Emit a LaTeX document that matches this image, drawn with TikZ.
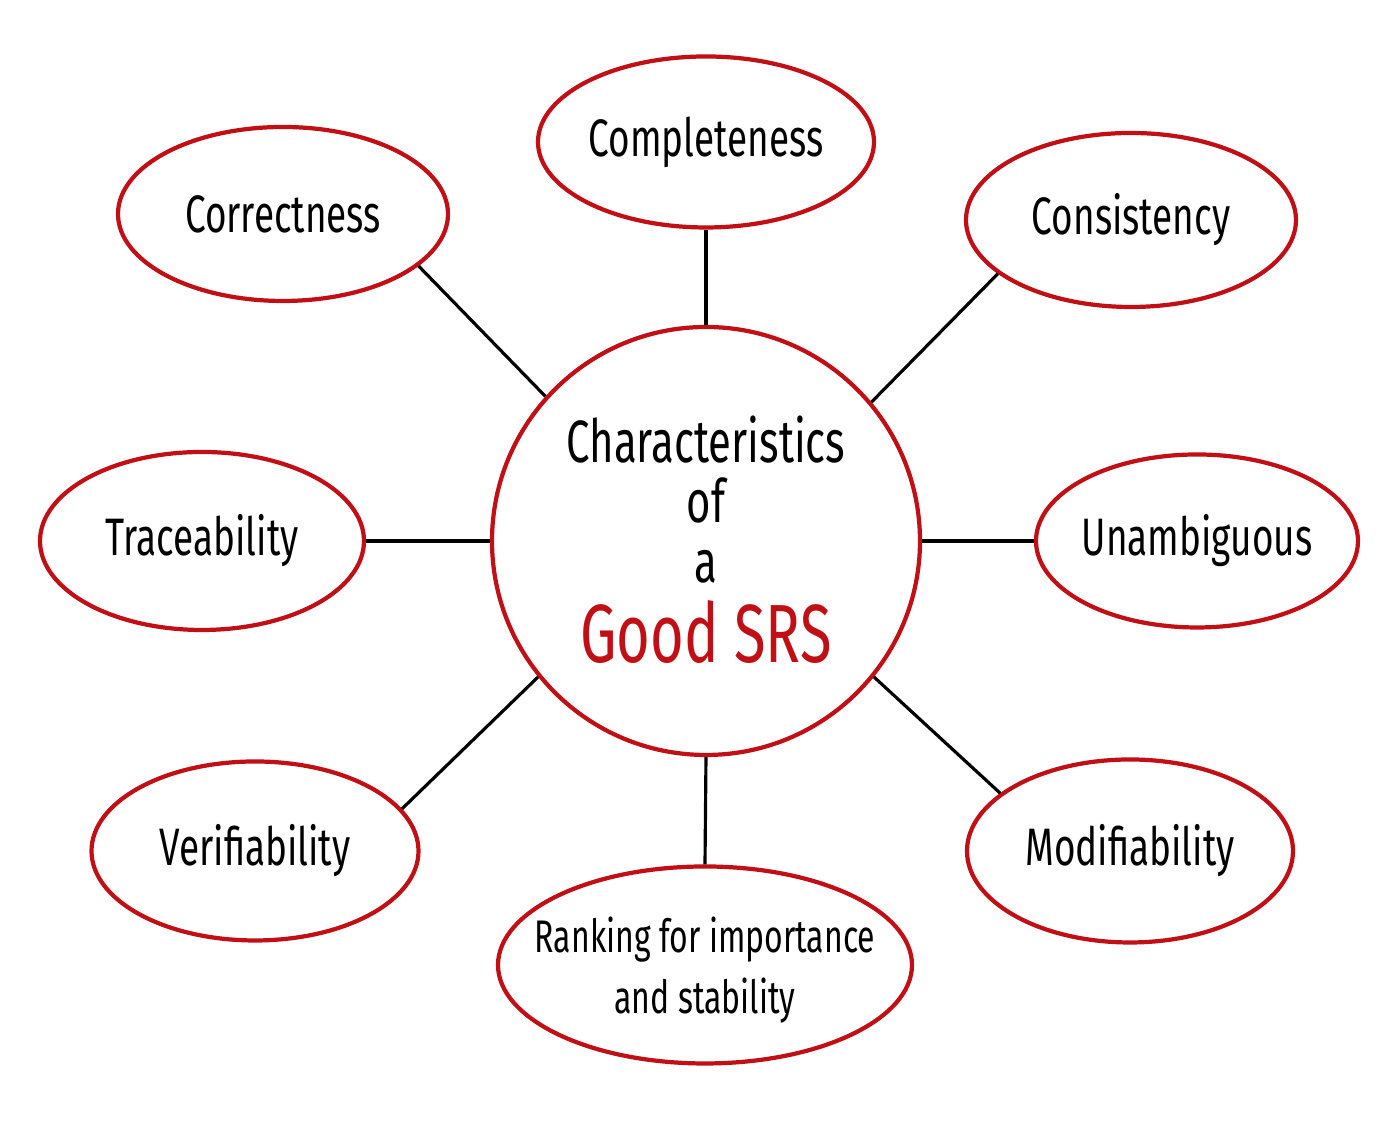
\documentclass[tikz,border=0pt]{standalone}
\usepackage{fontspec}
\setmainfont[FakeStretch=0.7]{Fira Sans}
\usepackage{tikz}
\usetikzlibrary{shapes,positioning,calc}
\definecolor{srsred}{RGB}{192,16,22}

\begin{document}
\begin{tikzpicture}[
    bubble/.style={ellipse, draw=srsred, line width=1.2pt, inner xsep=-6pt, inner ysep=0pt, fill=white,
        minimum width=3.3cm, minimum height=1.74cm, font=\fontsize{15}{19}\selectfont},
    hub/.style={circle, draw=srsred, line width=1.2pt, inner sep=0pt, minimum size=4.28cm},
    spoke/.style={line width=0.9pt, black}
]
    \useasboundingbox (0,0) rectangle (13.99,11.24);

    % centre
    \node[hub] (srs) at (7.06, 5.83) {};
    \node[align=center, font=\fontsize{17}{17}\selectfont] (srstext) at (7.06, 5.84)
        {Characteristics\\of\\a\\[4pt]{\fontsize{23.5}{22}\selectfont\color{srsred}Good SRS}};

    % characteristics
    \node[bubble, minimum width=3.36cm, minimum height=1.71cm] (compl) at (7.06, 9.82) {Completeness};
    \node[bubble] (correct) at (2.83, 9.10) {Correctness};
    \node[bubble] (consist) at (11.31, 9.04) {Consistency};
    \node[bubble, minimum width=3.24cm, minimum height=1.78cm] (trace) at (2.02, 5.83) {Traceability};
    \node[bubble, minimum width=3.22cm, minimum height=1.73cm] (unamb) at (11.97, 5.83) {Unambiguous};
    \node[bubble, minimum width=3.27cm, minimum height=1.79cm] (verif) at (2.55, 2.73) {Verifiability};
    \node[bubble, minimum width=3.26cm, minimum height=1.83cm] (modif) at (11.30, 2.73) {Modifiability};
    \node[bubble, minimum width=4.14cm, minimum height=1.97cm] (rank) at (7.05, 1.59) {};
    \node[align=center, font=\fontsize{13}{17.5}\selectfont, yshift=-0.05cm] (ranktext) at (rank)
        {Ranking for importance\\and stability};

    % spokes
    \draw[spoke] (srs.90) -- (compl.-90);
    \draw[spoke] (srs.138) -- (correct.-21);
    \draw[spoke] (srs.40) -- (consist.-158);
    \draw[spoke] (srs.180) -- (trace.0);
    \draw[spoke] (srs.0) -- (unamb.180);
    \draw[spoke] (srs.-141) -- (verif.16);
    \draw[spoke] (srs.-39) -- (modif.156);
    \draw[spoke] (srs.-90) -- (rank.90);
\end{tikzpicture}
\end{document}
